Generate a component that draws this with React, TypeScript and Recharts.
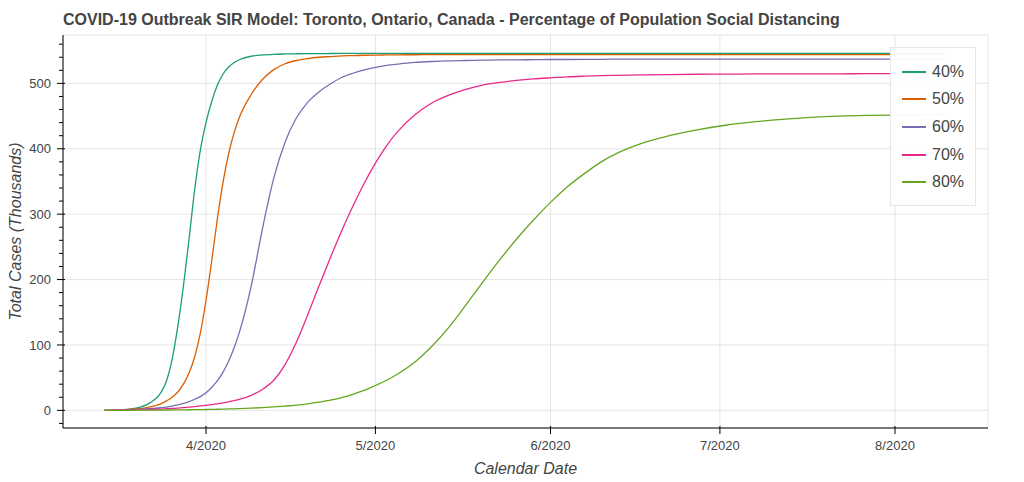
import { CartesianGrid, Line, LineChart, ReferenceArea, XAxis, YAxis } from "recharts";

const FONT = '"Liberation Sans", Arial, Helvetica, sans-serif';
const TEXT = "#444444";
const GRID = "#e5e5e5";

const START = Date.UTC(2020, 2, 14);
const DAY = 86400000;

// days after 2020-03-14
const days = [
  0, 2, 4, 6, 8, 10, 11, 12, 13, 14, 15, 16, 17, 18, 19, 20, 21, 22, 23, 24,
  26, 28, 30, 32, 34, 36, 38, 40, 42, 44, 46, 48, 50, 52, 55, 58, 61, 64, 67,
  70, 73, 76, 79, 82, 85, 88, 91, 95, 100, 105, 110, 115, 120, 125, 130, 135,
  140, 145, 149,
];

// total cases, thousands
const cases40 = [
  0, 0.5, 1.5, 4, 11, 27, 45, 78, 128, 190, 262, 338, 398, 440, 472, 497, 514,
  525, 532, 536.5, 541.5, 543.5, 544.5, 545, 545.3, 545.5, 545.6, 545.7, 545.8,
  545.8, 545.9, 545.9, 546, 546, 546, 546, 546, 546, 546, 546, 546, 546, 546,
  546, 546, 546, 546, 546, 546, 546, 546, 546, 546, 546, 546, 546, 546, 546,
  546,
];
const cases50 = [
  0, 0.3, 1, 2.5, 5, 10, 14.5, 20, 28, 40, 57, 82, 118, 168, 228, 292, 348, 392,
  425, 450, 483, 506, 521, 530, 535, 538, 540, 541, 542, 542.5, 543, 543.3,
  543.5, 543.7, 543.8, 543.9, 544, 544, 544, 544, 544, 544, 544, 544, 544, 544,
  544, 544, 544, 544, 544, 544, 544, 544, 544, 544, 544, 544, 544,
];
const cases60 = [
  0, 0.3, 0.8, 1.5, 2.5, 4, 5, 6.5, 8.5, 10.5, 13.5, 17, 21, 27, 35, 45, 58, 75,
  96, 122, 190, 278, 355, 410, 447, 471, 487, 499, 509, 515.5, 520.5, 524.5,
  527.5, 529.5, 532, 533.5, 534.5, 535, 535.5, 536, 536, 536.3, 536.5, 536.5,
  536.7, 536.8, 537, 537, 537, 537, 537, 537, 537, 537, 537, 537, 537, 537,
  537,
];
const cases70 = [
  0, 0.2, 0.5, 1, 1.5, 2, 2.5, 3, 3.5, 4.2, 5, 5.8, 6.7, 7.7, 8.8, 10, 11.4, 13,
  15, 17, 23, 32, 46, 70, 104, 146, 190, 233, 274, 312, 347, 378, 405, 427, 452,
  470, 482, 491, 497.5, 501.5, 504.5, 506.8, 508.5, 510, 511, 511.8, 512.4, 513,
  513.5, 514, 514.2, 514.4, 514.5, 514.6, 514.7, 514.8, 514.9, 515, 515,
];
const cases80 = [
  0, 0, 0.1, 0.2, 0.3, 0.4, 0.5, 0.6, 0.7, 0.8, 0.9, 1, 1.1, 1.3, 1.5, 1.7, 1.9,
  2.1, 2.4, 2.7, 3.4, 4.2, 5.2, 6.5, 8, 10, 12.5, 15.5, 19.5, 24.5, 30.5, 38, 46,
  56, 74, 98, 127, 161, 196, 230, 262, 291, 318, 342, 362, 380, 394, 408, 420,
  429, 436, 441, 445, 448, 450, 451, 451.5, 452, 453,
];

const seriesNames = ["40%", "50%", "60%", "70%", "80%"];
const seriesValues = [cases40, cases50, cases60, cases70, cases80];
const seriesColors = ["#1b9e77", "#d95f02", "#7570b3", "#e7298a", "#66a61e"];

const monthTicks = [
  Date.UTC(2020, 3, 1),
  Date.UTC(2020, 4, 1),
  Date.UTC(2020, 5, 1),
  Date.UTC(2020, 6, 1),
  Date.UTC(2020, 7, 1),
];
const monthLabels = ["4/2020", "5/2020", "6/2020", "7/2020", "8/2020"];

const yMajor = [0, 100, 200, 300, 400, 500];
const yTicks = [
  -20, 0, 20, 40, 60, 80, 100, 120, 140, 160, 180, 200, 220, 240, 260, 280, 300,
  320, 340, 360, 380, 400, 420, 440, 460, 480, 500, 520, 540, 560,
];

const xDomain = [START - 7.32 * DAY, START + 156.47 * DAY];
const yDomain = [-27, 574];

const data = days.map((d, i) => {
  const row: Record<string, number> = { t: START + d * DAY };
  seriesNames.forEach((name, k) => {
    row[name] = seriesValues[k][i];
  });
  return row;
});

function YTick({ x, y, payload }: any) {
  const major = payload.value % 100 === 0;
  return (
    <g>
      <line
        x1={x - (major ? 6 : 4)}
        x2={x + (major ? 2 : 0)}
        y1={y}
        y2={y}
        stroke="#000"
      />
      {major && (
        <text
          x={x - 12}
          y={y}
          dy="0.35em"
          textAnchor="end"
          fill={TEXT}
          fontSize={13}
          fontFamily={FONT}
        >
          {payload.value}
        </text>
      )}
    </g>
  );
}

function XTick({ x, y, payload }: any) {
  const label = monthLabels[monthTicks.indexOf(payload.value)];
  return (
    <g>
      <line x1={x} x2={x} y1={y - 2} y2={y + 6} stroke="#000" />
      <text
        x={x}
        y={y + 22}
        textAnchor="middle"
        fill={TEXT}
        fontSize={13}
        fontFamily={FONT}
      >
        {label}
      </text>
    </g>
  );
}

export default function App() {
  return (
    <div
      style={{
        position: "absolute",
        left: 0,
        top: 0,
        width: 1024,
        height: 482,
        background: "#fff",
        fontFamily: FONT,
      }}
    >
      <div
        style={{
          position: "absolute",
          left: 63,
          top: 10,
          fontSize: 16,
          fontWeight: "bold",
          color: TEXT,
          whiteSpace: "nowrap",
          lineHeight: "20px",
        }}
      >
        COVID-19 Outbreak SIR Model: Toronto, Ontario, Canada - Percentage of
        Population Social Distancing
      </div>

      <LineChart
        width={1024}
        height={482}
        data={data}
        margin={{ top: 35, right: 36, bottom: 24, left: 23 }}
      >
        <CartesianGrid
          stroke={GRID}
          horizontalValues={yMajor}
          verticalValues={monthTicks}
        />
        <ReferenceArea
          x1={xDomain[0]}
          x2={xDomain[1]}
          y1={yDomain[0]}
          y2={yDomain[1]}
          fill="none"
          stroke={GRID}
        />
        <XAxis
          dataKey="t"
          type="number"
          domain={xDomain}
          allowDataOverflow
          ticks={monthTicks}
          interval={0}
          height={30}
          stroke="#000"
          tickSize={0}
          tickMargin={0}
          tickLine={false}
          tick={<XTick />}
          label={(p: any) => {
            const vb = p.viewBox;
            return (
              <text
                x={vb.x + vb.width / 2}
                y={vb.y + 40}
                dy="0.35em"
                textAnchor="middle"
                fill={TEXT}
                fontSize={16}
                fontStyle="italic"
                fontFamily={FONT}
              >
                Calendar Date
              </text>
            );
          }}
        />
        <YAxis
          type="number"
          domain={yDomain}
          allowDataOverflow
          ticks={yTicks}
          interval={0}
          width={40}
          stroke="#000"
          tickSize={0}
          tickMargin={0}
          tickLine={false}
          tick={<YTick />}
          label={(p: any) => {
            const vb = p.viewBox;
            const cx = vb.x - 8;
            const cy = vb.y + vb.height / 2;
            return (
              <text
                x={cx}
                y={cy}
                dy="0.35em"
                textAnchor="middle"
                transform={`rotate(-90 ${cx} ${cy})`}
                fill={TEXT}
                fontSize={16}
                fontStyle="italic"
                fontFamily={FONT}
              >
                Total Cases (Thousands)
              </text>
            );
          }}
        />
        {seriesNames.map((name, k) => (
          <Line
            key={name}
            dataKey={name}
            type="monotone"
            stroke={seriesColors[k]}
            strokeWidth={1.3}
            dot={false}
            activeDot={false}
            isAnimationActive={false}
          />
        ))}
      </LineChart>

      <div
        style={{
          position: "absolute",
          left: 890,
          top: 47,
          width: 86,
          height: 159,
          boxSizing: "border-box",
          border: `1px solid ${GRID}`,
          background: "rgba(255,255,255,0.95)",
          paddingTop: 10,
        }}
      >
        {seriesNames.map((name, k) => (
          <div
            key={name}
            style={{
              display: "flex",
              alignItems: "center",
              height: 27.65,
              paddingLeft: 11,
            }}
          >
            <span
              style={{
                display: "inline-block",
                width: 24,
                height: 2,
                background: seriesColors[k],
                marginRight: 6,
              }}
            />
            <span style={{ fontSize: 16, color: TEXT }}>{name}</span>
          </div>
        ))}
      </div>
    </div>
  );
}
